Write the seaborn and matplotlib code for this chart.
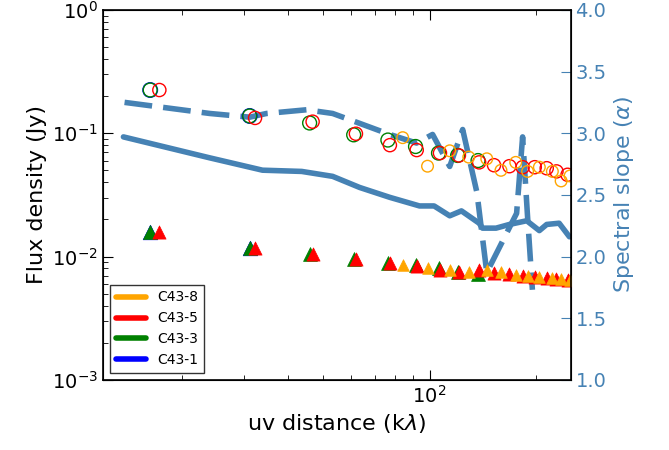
import matplotlib
matplotlib.use("Agg")
import matplotlib.pyplot as plt
import seaborn as sns
import pandas as pd
from matplotlib.lines import Line2D

sns.set_style("ticks")
plt.rcParams['font.family'] = ['DejaVu Sans']
for k in ["text.color", "axes.labelcolor", "xtick.color", "ytick.color", "axes.edgecolor"]:
    plt.rcParams[k] = "black"

configs = ["C43-8", "C43-5", "C43-3", "C43-1"]
colors = {"C43-8": "orange", "C43-5": "red", "C43-3": "green", "C43-1": "blue"}

# uv distance (klambda), flux of circles (high freq) and triangles (low freq)
uv_c1 = [16.3, 31.1]
circ_c1 = [0.224, 0.138]
tri_c1 = [0.0159, 0.0118]

uv_c3 = [16.3, 31.1, 45.9, 61.1, 76.3, 91.3, 106, 120, 137]
circ_c3 = [0.224, 0.138, 0.121, 0.097, 0.088, 0.078, 0.069, 0.066, 0.060]
tri_c3 = [0.0159, 0.0118, 0.0105, 0.0095, 0.0088, 0.0085, 0.0080, 0.0075, 0.0072]

uv_c5 = [17.3, 32.2, 46.8, 62.0, 77.3, 92.0, 107, 121, 138, 152, 168, 183, 198, 214, 228, 245]
circ_c5 = [0.224, 0.133, 0.124, 0.099, 0.080, 0.073, 0.069, 0.066, 0.058, 0.055, 0.054, 0.053, 0.053, 0.052, 0.049, 0.046]
tri_c5 = [0.0159, 0.0118, 0.0105, 0.0095, 0.0088, 0.0084, 0.0078, 0.0075, 0.0077, 0.0074, 0.0072, 0.0070, 0.0068, 0.0067, 0.0066, 0.0065]

uv_c8 = [84, 98.7, 114, 129, 145, 159, 175, 189, 204, 222, 235, 249]
circ_c8 = [0.092, 0.054, 0.072, 0.064, 0.062, 0.050, 0.058, 0.049, 0.053, 0.049, 0.041, 0.045]
tri_c8 = [0.0086, 0.0081, 0.0077, 0.0075, 0.0077, 0.0075, 0.0071, 0.0070, 0.0068, 0.0067, 0.0066, 0.0065]

# spectral slope curves
uv_solid = [13.7, 24.0, 33.8, 43.6, 53.3, 63.5, 77.2, 93.7, 103, 114, 123, 138, 141, 154, 168, 188, 204, 214, 232, 248]
alpha_solid = [2.97, 2.80, 2.70, 2.69, 2.65, 2.56, 2.48, 2.41, 2.41, 2.33, 2.37, 2.27, 2.23, 2.23, 2.26, 2.29, 2.21, 2.26, 2.27, 2.16]
uv_dash = [13.8, 16.6, 24.0, 31.1, 34.7, 45.0, 53.3, 63.5, 77.2, 91.9, 102, 114, 124, 136, 145, 176, 183, 189, 195]
alpha_dash = [3.25, 3.22, 3.16, 3.13, 3.16, 3.19, 3.16, 3.08, 2.99, 2.92, 2.99, 2.73, 3.03, 2.52, 1.87, 2.35, 2.97, 2.32, 1.73]

fig = plt.figure(figsize=(6.69, 4.5), dpi=100)
ax = fig.add_axes([0.154, 0.156, 0.699, 0.822])
ax2 = ax.twinx()

slope_col = "#4682b4"
sns.lineplot(x=uv_solid, y=alpha_solid, ax=ax2, color=slope_col, lw=4, sort=False)
sns.lineplot(x=uv_dash, y=alpha_dash, ax=ax2, color=slope_col, lw=4, sort=False, dashes=False)
ax2.lines[-1].set_dashes([5, 2])

data = [("C43-1", uv_c1, circ_c1, tri_c1, 110),
        ("C43-3", uv_c3, circ_c3, tri_c3, 100),
        ("C43-5", uv_c5, circ_c5, tri_c5, 90),
        ("C43-8", uv_c8, circ_c8, tri_c8, 70)]
for name, uv, circ, tri, s in data:
    sns.scatterplot(x=uv, y=circ, ax=ax, s=s, marker="o", facecolor="none",
                    edgecolor=colors[name], linewidth=1)
    sns.scatterplot(x=uv, y=tri, ax=ax, s=s, marker="^", color=colors[name],
                    edgecolor=colors[name], linewidth=0.5)

ax.set_xscale("log")
ax.set_yscale("log")
ax.set_xlim(12, 250)
ax.set_ylim(1e-3, 1)
ax2.set_ylim(1.0, 4.0)
ax2.set_yticks([1.0, 1.5, 2.0, 2.5, 3.0, 3.5, 4.0])
ax2.set_yticklabels(["1.0", "1.5", "2.0", "2.5", "3.0", "3.5", "4.0"])

ax.set_xlabel(r"uv distance (k$\lambda$)", fontsize=16)
ax.set_ylabel("Flux density (Jy)", fontsize=16)
ax2.set_ylabel(r"Spectral slope ($\alpha$)", fontsize=16, color=slope_col)
ax.tick_params(which="both", direction="in", labelsize=14, top=True, colors="black")
ax.tick_params(which="major", length=7)
ax.tick_params(which="minor", length=3.5)
ax2.tick_params(direction="in", labelsize=14, colors=slope_col, length=7)
for sp in ax.spines.values():
    sp.set_linewidth(1.2)
    sp.set_color("black")
for sp in ax2.spines.values():
    sp.set_color("black")

handles = [Line2D([], [], color=colors[c], lw=4) for c in configs]
leg = ax.legend(handles, configs, loc="lower left", fontsize=10, frameon=True,
                fancybox=False, edgecolor="black", handlelength=2.2)
leg.get_frame().set_linewidth(1)
ax.set_zorder(ax2.get_zorder() + 1)
ax.patch.set_visible(False)

fig.savefig("out.png", dpi=100)
